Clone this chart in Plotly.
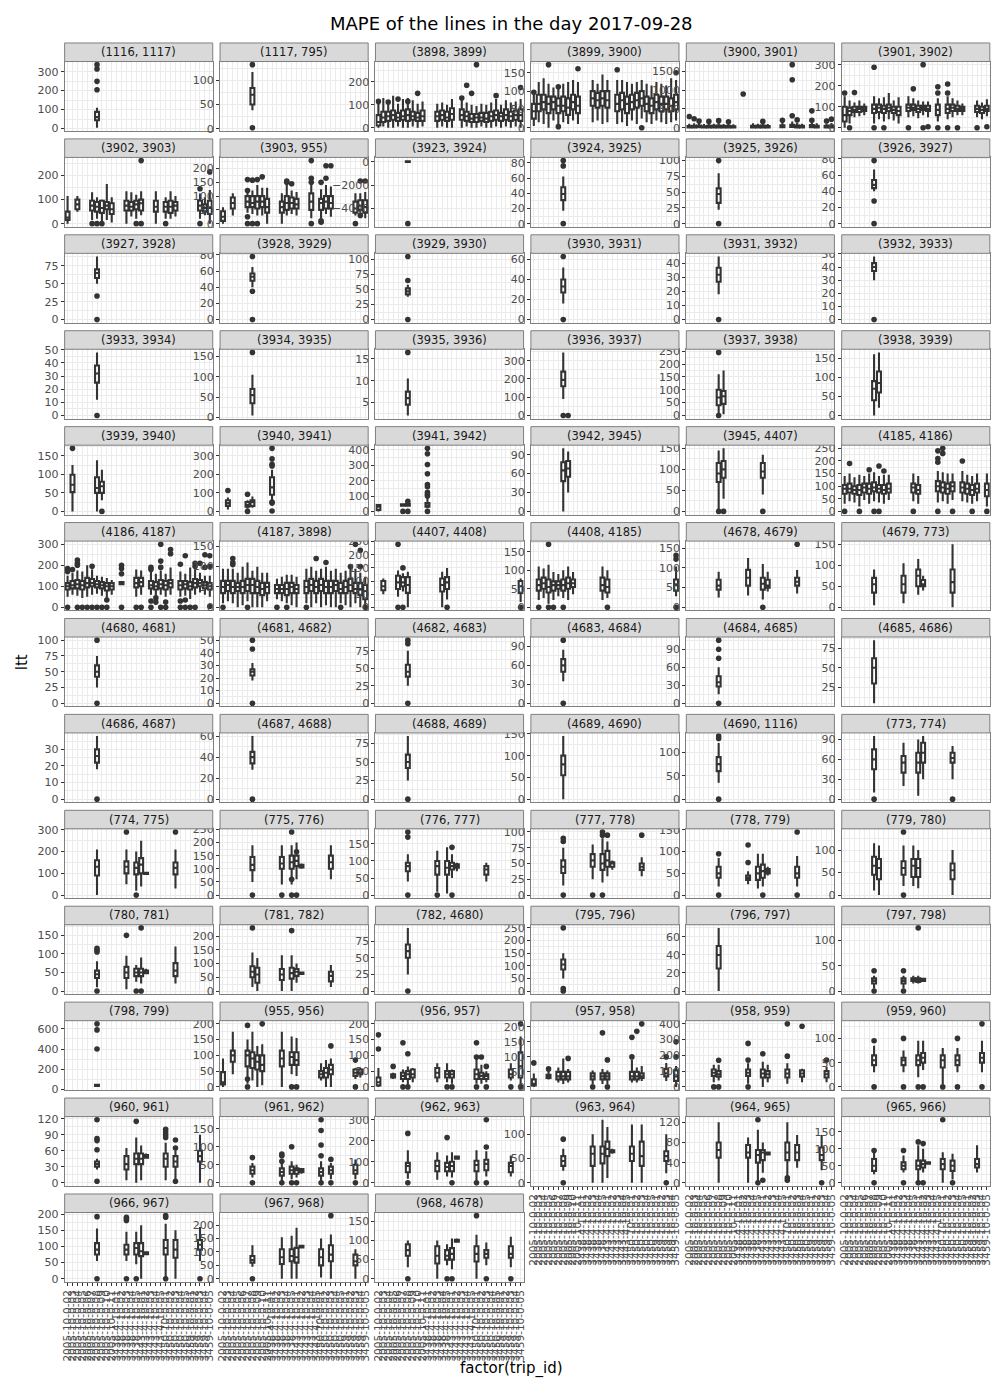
import plotly.graph_objects as go

TITLE = "MAPE of the lines in the day 2017-09-28"
X_LABEL = "factor(trip_id)"
Y_LABEL = "ltt"

TRIP_IDS = [
    "2005-10-0-02", "2005-10-0-03", "2005-10-0-04", "2005-10-0-05", "2005-10-0-06",
    "2005-10-0-07", "2005-10-0-08", "2005-10-0-09", "2005-10-0-10", "2005-10-0-11",
    "3438-4-10-01", "3438-4-10-02", "3438-4-10-03", "3438-4-10-04", "3438-4-10-05",
    "3443-4-10-01", "3443-4-10-02", "3443-4-10-03", "3443-4-10-04", "3443-4-10-05",
    "3450-10-0-01", "3450-10-0-02", "3450-10-0-03", "3450-10-0-04", "3450-10-0-05",
    "3459-10-0-01", "3459-10-0-02", "3459-10-0-03", "3459-10-0-04", "3459-10-0-05",
]

FACETS = [
    "(1116, 1117)", "(1117, 795)", "(3898, 3899)", "(3899, 3900)", "(3900, 3901)", "(3901, 3902)",
    "(3902, 3903)", "(3903, 955)", "(3923, 3924)", "(3924, 3925)", "(3925, 3926)", "(3926, 3927)",
    "(3927, 3928)", "(3928, 3929)", "(3929, 3930)", "(3930, 3931)", "(3931, 3932)", "(3932, 3933)",
    "(3933, 3934)", "(3934, 3935)", "(3935, 3936)", "(3936, 3937)", "(3937, 3938)", "(3938, 3939)",
    "(3939, 3940)", "(3940, 3941)", "(3941, 3942)", "(3942, 3945)", "(3945, 4407)", "(4185, 4186)",
    "(4186, 4187)", "(4187, 3898)", "(4407, 4408)", "(4408, 4185)", "(4678, 4679)", "(4679, 773)",
    "(4680, 4681)", "(4681, 4682)", "(4682, 4683)", "(4683, 4684)", "(4684, 4685)", "(4685, 4686)",
    "(4686, 4687)", "(4687, 4688)", "(4688, 4689)", "(4689, 4690)", "(4690, 1116)", "(773, 774)",
    "(774, 775)", "(775, 776)", "(776, 777)", "(777, 778)", "(778, 779)", "(779, 780)",
    "(780, 781)", "(781, 782)", "(782, 4680)", "(795, 796)", "(796, 797)", "(797, 798)",
    "(798, 799)", "(955, 956)", "(956, 957)", "(957, 958)", "(958, 959)", "(959, 960)",
    "(960, 961)", "(961, 962)", "(962, 963)", "(963, 964)", "(964, 965)", "(965, 966)",
    "(966, 967)", "(967, 968)", "(968, 4678)",
]

# y-axis break step for each facet (free y scales)
Y_STEP = [
    100, 50, 100, 50, 500, 100,
    100, 50, 2000, 20, 25, 20,
    25, 20, 25, 20, 10, 10,
    10, 50, 5, 100, 50, 50,
    50, 100, 100, 30, 50, 50,
    100, 50, 50, 50, 50, 50,
    25, 10, 25, 30, 30, 25,
    10, 20, 25, 50, 50, 30,
    100, 50, 50, 25, 50, 50,
    50, 50, 25, 50, 20, 50,
    200, 50, 50, 50, 100, 50,
    30, 50, 100, 50, 40, 50,
    50, 50, 50,
]

# boxes per facet: (trip index 1..30, lower whisker, q1, median, q3, upper whisker)
BOXES = [
    [(7, 4, 44, 60, 88, 110)],
    [(7, 38, 50, 70, 84, 117)],
    [(1, 0, 10, 25, 55, 110), (2, 5, 25, 45, 70, 130), (3, 0, 30, 50, 70, 110), (4, 0, 35, 55, 75, 140),
     (5, 5, 30, 45, 65, 105), (6, 0, 35, 50, 75, 125), (7, 0, 30, 55, 80, 130), (8, 5, 35, 50, 70, 120),
     (9, 0, 30, 45, 65, 105), (10, 5, 30, 50, 75, 115), (13, 0, 30, 50, 70, 105), (14, 5, 35, 55, 75, 110),
     (15, 0, 30, 45, 70, 100), (16, 0, 35, 60, 85, 125), (18, 0, 35, 55, 80, 125), (19, 5, 30, 50, 70, 110),
     (20, 0, 25, 40, 60, 100), (21, 0, 25, 45, 60, 95), (22, 5, 30, 45, 65, 105), (23, 0, 25, 40, 65, 100),
     (24, 0, 30, 50, 70, 110), (25, 5, 35, 55, 75, 125), (26, 0, 30, 50, 65, 100), (27, 5, 35, 55, 80, 120),
     (28, 0, 30, 50, 70, 110), (29, 5, 35, 55, 75, 115), (30, 0, 30, 55, 80, 125)],
    [(1, 5, 25, 45, 65, 90), (2, 15, 45, 65, 90, 125), (3, 10, 50, 70, 90, 135), (4, 0, 40, 65, 85, 120),
     (5, 20, 50, 70, 85, 110), (6, 10, 40, 60, 80, 115), (7, 15, 45, 60, 85, 120), (8, 10, 35, 55, 80, 125),
     (9, 20, 50, 70, 90, 130), (10, 10, 40, 60, 85, 125), (13, 15, 60, 80, 100, 130), (14, 20, 55, 75, 95, 120),
     (15, 10, 60, 80, 100, 145), (16, 15, 55, 75, 100, 130), (18, 10, 45, 65, 90, 130), (19, 15, 50, 75, 95, 130),
     (20, 5, 40, 65, 85, 125), (21, 20, 50, 70, 90, 120), (22, 10, 55, 75, 95, 125), (23, 25, 60, 80, 100, 130),
     (24, 15, 45, 65, 85, 120), (25, 10, 40, 60, 80, 115), (26, 20, 50, 70, 90, 125), (27, 15, 45, 65, 85, 120),
     (28, 10, 50, 65, 85, 115), (29, 15, 45, 60, 80, 135), (30, 20, 50, 70, 90, 130)],
    [(1, 0, 5, 20, 45, 110), (2, 0, 10, 25, 50, 120), (3, 0, 15, 35, 60, 130), (4, 0, 5, 20, 40, 100),
     (5, 0, 10, 30, 55, 120), (6, 0, 5, 25, 50, 110), (7, 0, 10, 30, 60, 140), (8, 0, 5, 20, 45, 100),
     (9, 0, 10, 25, 50, 115), (10, 0, 5, 20, 40, 95), (14, 0, 10, 30, 55, 120), (15, 0, 5, 25, 50, 110),
     (16, 0, 10, 30, 60, 130), (17, 0, 5, 20, 45, 100), (20, 0, 15, 35, 65, 140), (22, 0, 20, 45, 80, 170),
     (23, 0, 10, 30, 60, 130), (24, 0, 5, 25, 50, 110), (26, 0, 15, 40, 70, 150), (27, 0, 10, 30, 55, 120),
     (29, 0, 5, 25, 50, 110), (30, 0, 10, 35, 60, 130)],
    [(1, 0, 30, 60, 100, 150), (2, 20, 60, 80, 95, 130), (3, 50, 75, 85, 100, 120), (4, 55, 75, 90, 100, 130),
     (5, 60, 80, 90, 100, 115), (7, 20, 70, 90, 110, 150), (8, 40, 75, 95, 110, 140), (9, 30, 70, 90, 105, 145),
     (10, 40, 80, 95, 110, 165), (11, 35, 70, 85, 100, 130), (12, 20, 60, 80, 100, 145), (14, 50, 80, 95, 110, 150),
     (15, 55, 85, 95, 110, 140), (16, 45, 75, 90, 105, 130), (17, 60, 85, 95, 105, 125), (18, 50, 80, 90, 105, 125),
     (20, 30, 60, 85, 110, 140), (22, 40, 70, 90, 110, 150), (23, 50, 80, 95, 110, 140), (24, 60, 80, 90, 105, 130),
     (25, 60, 80, 90, 100, 115), (28, 50, 75, 90, 105, 130), (29, 40, 70, 85, 100, 120), (30, 55, 80, 90, 105, 135)],
    [(1, 0, 15, 25, 50, 115), (3, 50, 60, 80, 100, 115), (6, 15, 55, 75, 95, 130), (7, 20, 50, 70, 90, 110),
     (8, 0, 45, 65, 95, 100), (9, 15, 60, 75, 90, 165), (10, 5, 40, 60, 85, 110), (13, 0, 55, 75, 95, 135),
     (14, 30, 55, 70, 90, 130), (15, 20, 60, 80, 95, 120), (16, 35, 55, 85, 100, 135), (19, 0, 50, 70, 95, 135),
     (21, 20, 50, 70, 90, 110), (22, 20, 45, 70, 95, 135), (23, 30, 55, 75, 90, 115), (28, 20, 55, 75, 95, 125),
     (29, 35, 50, 65, 80, 110), (30, 0, 40, 65, 95, 140)],
    [(1, 0, 10, 25, 45, 60), (3, 30, 55, 75, 95, 110), (6, 40, 60, 80, 100, 115), (7, 35, 60, 75, 100, 120),
     (8, 30, 55, 80, 100, 140), (9, 30, 60, 80, 100, 130), (10, 0, 40, 60, 90, 130), (13, 0, 40, 60, 80, 110),
     (14, 30, 50, 75, 100, 140), (15, 35, 55, 75, 95, 120), (16, 30, 55, 70, 90, 115), (19, 20, 50, 80, 110, 140),
     (21, 20, 50, 75, 90, 125), (22, 35, 55, 80, 100, 140), (23, 25, 55, 75, 100, 135), (28, 30, 40, 55, 80, 110),
     (29, 40, 50, 65, 85, 110), (30, 20, 40, 60, 85, 115)],
    [(7, 0, 5, 20, 50, 120)],
    [(7, 17, 31, 39, 48, 62)],
    [(7, 22, 33, 47, 56, 80)],
    [(7, 40, 44, 48, 54, 67)],
    [(7, 50, 58, 65, 70, 88)],
    [(7, 40, 48, 53, 57, 65)],
    [(7, 38, 42, 47, 52, 58)],
    [(7, 16, 27, 33, 40, 52)],
    [(7, 18, 27, 32, 37, 45)],
    [(7, 30, 37, 40, 43, 48)],
    [(7, 12, 25, 32, 38, 48)],
    [(7, 5, 35, 55, 70, 105)],
    [(7, 2, 4.5, 6, 7.5, 10.5)],
    [(7, 90, 160, 195, 240, 345)],
    [(7, 0, 40, 70, 100, 160), (8, 5, 45, 75, 95, 175)],
    [(7, 0, 40, 70, 90, 160), (8, 20, 60, 85, 115, 165)],
    [(2, 0, 52, 72, 99, 125), (7, 0, 50, 63, 92, 138), (8, 30, 50, 68, 80, 112)],
    [(2, 10, 30, 45, 60, 75), (6, 15, 25, 35, 50, 60), (7, 20, 30, 50, 60, 80), (11, 60, 90, 130, 185, 225)],
    [(1, 0, 10, 30, 42, 45), (6, 30, 38, 42, 46, 50), (7, 30, 38, 43, 48, 55), (11, 20, 30, 40, 55, 90)],
    [(7, 0, 48, 65, 78, 100), (8, 30, 55, 68, 80, 95)],
    [(7, 0, 70, 90, 115, 145), (8, 30, 80, 100, 120, 150), (16, 40, 80, 95, 115, 135)],
    [(1, 30, 70, 90, 105, 140), (2, 40, 75, 90, 110, 150), (3, 35, 70, 85, 100, 135), (4, 20, 65, 85, 105, 145),
     (5, 45, 75, 95, 110, 140), (6, 30, 70, 90, 110, 150), (7, 40, 80, 95, 115, 155), (8, 35, 75, 90, 105, 140),
     (9, 30, 70, 85, 105, 145), (10, 45, 75, 90, 110, 145), (15, 40, 75, 95, 110, 150), (16, 30, 70, 85, 105, 140),
     (20, 35, 80, 100, 120, 160), (21, 40, 75, 95, 115, 155), (22, 30, 70, 90, 110, 150), (23, 45, 80, 100, 115, 150),
     (25, 40, 75, 95, 115, 160), (26, 35, 70, 90, 110, 145), (27, 30, 65, 85, 105, 140), (28, 40, 75, 90, 110, 150),
     (30, 20, 60, 85, 110, 150)],
    [(1, 50, 85, 100, 115, 150), (2, 60, 90, 105, 125, 165), (3, 55, 90, 110, 130, 175), (4, 45, 85, 105, 125, 170),
     (5, 50, 95, 115, 140, 200), (6, 60, 100, 115, 135, 180), (7, 65, 95, 110, 125, 150), (8, 55, 90, 105, 120, 145),
     (9, 40, 80, 100, 115, 140), (10, 60, 85, 100, 115, 130), (12, 105, 110, 115, 120, 125), (15, 50, 95, 115, 140, 180),
     (16, 60, 100, 120, 140, 175), (18, 60, 90, 105, 125, 185), (19, 50, 85, 100, 120, 160), (20, 60, 90, 110, 130, 175),
     (21, 50, 85, 105, 125, 160), (22, 60, 95, 115, 130, 190), (24, 50, 85, 105, 125, 170), (25, 55, 90, 110, 125, 160),
     (26, 40, 85, 100, 120, 190), (27, 60, 95, 115, 135, 180), (28, 70, 100, 115, 130, 165), (29, 60, 90, 105, 120, 150),
     (30, 50, 85, 100, 115, 150)],
    [(1, 10, 35, 50, 65, 95), (2, 15, 40, 55, 65, 95), (3, 10, 35, 50, 65, 95), (4, 0, 40, 50, 60, 85),
     (5, 5, 35, 50, 65, 100), (6, 15, 40, 55, 70, 110), (7, 0, 35, 55, 70, 90), (8, 0, 35, 50, 65, 100),
     (9, 0, 30, 45, 60, 85), (10, 15, 35, 50, 60, 85), (12, 20, 35, 45, 55, 70), (13, 15, 35, 45, 55, 75),
     (14, 10, 30, 45, 60, 80), (15, 5, 35, 50, 60, 80), (16, 0, 35, 45, 55, 75), (18, 10, 35, 50, 65, 95),
     (19, 0, 40, 55, 70, 100), (20, 10, 35, 50, 65, 90), (21, 0, 40, 55, 70, 95), (22, 5, 35, 50, 65, 100),
     (23, 0, 35, 50, 65, 90), (24, 0, 40, 55, 65, 95), (25, 10, 35, 45, 60, 85), (26, 5, 35, 50, 65, 90),
     (27, 0, 40, 55, 70, 95), (28, 10, 35, 45, 60, 95), (29, 0, 30, 45, 60, 85), (30, 5, 20, 40, 55, 75)],
    [(2, 50, 65, 80, 100, 110), (5, 40, 70, 95, 120, 140), (6, 60, 80, 95, 115, 130), (7, 0, 55, 85, 115, 135),
     (14, 0, 60, 85, 110, 135), (15, 30, 70, 95, 115, 150), (30, 20, 55, 80, 100, 110)],
    [(2, 20, 45, 60, 75, 110), (3, 25, 50, 65, 80, 105), (4, 10, 40, 55, 75, 115), (5, 20, 45, 60, 70, 95),
     (6, 30, 50, 60, 70, 90), (7, 25, 45, 60, 75, 100), (8, 20, 50, 65, 80, 110), (9, 35, 55, 65, 75, 95),
     (15, 20, 45, 60, 80, 110), (16, 25, 40, 55, 75, 100), (30, 30, 45, 60, 75, 110)],
    [(7, 25, 45, 55, 70, 90), (13, 30, 55, 75, 95, 125), (16, 20, 45, 60, 75, 110), (17, 40, 50, 55, 70, 90),
     (23, 35, 55, 65, 75, 95)],
    [(7, 5, 35, 55, 70, 90), (13, 10, 35, 55, 75, 105), (16, 30, 50, 75, 90, 115), (17, 40, 50, 55, 65, 75),
     (23, 0, 35, 60, 90, 150)],
    [(7, 25, 42, 50, 60, 75)],
    [(7, 18, 22, 25, 27, 32)],
    [(7, 25, 38, 45, 55, 75)],
    [(7, 35, 50, 60, 70, 85)],
    [(7, 15, 28, 35, 45, 60)],
    [(7, 5, 30, 50, 62, 85)],
    [(7, 18, 22, 26, 30, 38)],
    [(7, 28, 34, 40, 45, 60)],
    [(7, 25, 42, 50, 60, 85)],
    [(7, 0, 55, 80, 100, 145)],
    [(7, 35, 60, 75, 90, 120)],
    [(7, 10, 45, 60, 75, 95), (13, 20, 40, 55, 65, 85), (16, 5, 40, 55, 70, 90), (17, 30, 55, 70, 85, 95),
     (23, 30, 55, 62, 70, 80)],
    [(7, 0, 90, 130, 160, 210), (13, 50, 100, 130, 155, 210), (15, 20, 95, 125, 150, 200), (16, 40, 100, 140, 170, 250),
     (17, 95, 97, 100, 103, 105), (23, 30, 95, 125, 150, 210)],
    [(7, 50, 95, 115, 145, 190), (13, 40, 100, 120, 145, 190), (15, 40, 100, 125, 150, 190), (16, 60, 110, 130, 150, 200),
     (17, 100, 105, 110, 115, 120), (23, 60, 100, 125, 150, 190)],
    [(7, 40, 70, 85, 95, 120), (13, 10, 60, 85, 100, 130), (15, 5, 60, 80, 100, 140), (16, 50, 75, 85, 95, 120),
     (17, 70, 80, 85, 90, 95), (23, 40, 60, 75, 85, 95)],
    [(7, 15, 35, 45, 55, 75), (13, 25, 45, 55, 65, 80), (15, 20, 40, 50, 65, 90), (16, 30, 45, 55, 70, 85),
     (17, 40, 45, 50, 52, 55), (23, 30, 40, 45, 50, 60)],
    [(7, 20, 40, 50, 65, 85), (13, 25, 35, 40, 45, 55), (15, 15, 35, 50, 65, 95), (16, 20, 40, 55, 70, 95),
     (17, 45, 50, 55, 60, 65), (23, 20, 40, 50, 65, 90)],
    [(7, 10, 45, 65, 85, 115), (8, 0, 35, 60, 80, 110), (13, 20, 45, 60, 75, 110), (15, 20, 40, 65, 80, 110),
     (16, 15, 40, 60, 80, 100), (23, 0, 35, 55, 70, 100)],
    [(7, 10, 35, 45, 55, 80), (13, 5, 35, 50, 65, 95), (15, 25, 40, 50, 60, 70), (16, 20, 40, 50, 60, 90),
     (17, 45, 48, 52, 55, 60), (23, 20, 40, 55, 75, 120)],
    [(7, 15, 50, 70, 90, 140), (8, 0, 30, 60, 85, 120), (13, 0, 40, 60, 80, 130), (15, 0, 45, 65, 85, 130),
     (16, 30, 55, 70, 80, 100), (17, 60, 62, 65, 67, 70), (23, 15, 35, 55, 70, 95)],
    [(7, 25, 50, 60, 70, 95)],
    [(7, 50, 85, 105, 125, 150)],
    [(7, 0, 25, 40, 50, 70)],
    [(7, 5, 15, 20, 25, 30), (13, 5, 15, 20, 25, 30), (15, 15, 20, 22, 25, 30), (16, 15, 18, 22, 25, 30),
     (17, 18, 20, 22, 24, 25)],
    [(7, 25, 35, 40, 45, 55)],
    [(1, 0, 8, 15, 47, 90), (3, 40, 80, 100, 115, 175), (6, 10, 65, 100, 115, 150), (7, 20, 60, 90, 110, 175),
     (8, 0, 55, 80, 100, 130), (9, 5, 50, 70, 100, 135), (13, 0, 65, 90, 115, 175), (15, 40, 70, 95, 110, 160),
     (16, 35, 70, 85, 110, 155), (21, 20, 30, 40, 50, 75), (22, 0, 30, 45, 60, 85), (23, 0, 40, 55, 70, 90),
     (28, 25, 35, 45, 55, 60), (29, 30, 40, 45, 55, 60)],
    [(1, 0, 5, 15, 30, 60), (4, 25, 30, 35, 40, 45), (6, 15, 25, 35, 45, 55), (7, 0, 25, 40, 50, 65),
     (8, 15, 30, 40, 55, 60), (13, 15, 30, 45, 60, 75), (15, 15, 30, 40, 50, 75), (16, 10, 30, 40, 50, 55),
     (21, 10, 25, 40, 55, 90), (22, 10, 25, 35, 45, 70), (23, 15, 25, 35, 40, 50), (28, 20, 30, 40, 55, 75),
     (30, 0, 30, 65, 110, 160)],
    [(1, 0, 5, 10, 25, 45), (4, 25, 30, 35, 40, 55), (6, 15, 25, 35, 50, 65), (7, 10, 25, 35, 50, 95),
     (8, 15, 25, 35, 50, 60), (13, 10, 25, 35, 45, 55), (15, 10, 25, 35, 45, 60), (16, 10, 25, 35, 45, 55),
     (21, 15, 25, 35, 50, 90), (22, 15, 25, 35, 50, 65), (23, 20, 30, 35, 45, 70), (28, 20, 35, 45, 60, 80),
     (30, 0, 20, 35, 55, 70)],
    [(6, 30, 70, 90, 110, 140), (7, 40, 65, 80, 100, 140), (13, 20, 70, 90, 110, 150), (16, 0, 60, 85, 110, 160),
     (17, 30, 60, 80, 100, 140), (21, 20, 60, 85, 110, 150), (24, 30, 65, 85, 105, 115), (29, 30, 60, 80, 100, 130)],
    [(7, 30, 45, 55, 65, 85), (13, 30, 45, 55, 60, 75), (16, 20, 45, 55, 65, 95), (17, 35, 50, 60, 70, 95),
     (21, 5, 40, 55, 65, 80), (24, 30, 45, 55, 65, 80), (29, 30, 50, 60, 70, 95)],
    [(7, 25, 30, 35, 40, 45), (13, 5, 25, 35, 50, 65), (15, 0, 35, 45, 55, 85), (16, 5, 35, 45, 55, 70),
     (17, 45, 47, 50, 52, 55), (21, 5, 30, 45, 55, 75), (23, 5, 30, 40, 50, 60), (28, 0, 40, 50, 60, 90)],
    [(7, 15, 25, 35, 45, 55), (13, 5, 20, 30, 40, 55), (15, 10, 25, 35, 45, 60), (16, 15, 25, 35, 40, 50),
     (17, 25, 30, 35, 38, 40), (21, 5, 20, 30, 40, 60), (23, 10, 25, 35, 45, 55), (28, 10, 25, 35, 50, 65)],
    [(7, 20, 50, 80, 95, 155), (13, 15, 55, 80, 105, 145), (15, 30, 55, 75, 95, 130), (16, 25, 55, 80, 100, 145),
     (17, 110, 115, 120, 125, 130), (21, 10, 55, 85, 105, 155), (23, 30, 60, 90, 110, 150), (28, 30, 50, 80, 95, 130)],
    [(7, 25, 35, 45, 55, 70), (13, 0, 35, 60, 75, 100), (15, 0, 40, 60, 75, 130), (16, 10, 55, 70, 85, 115),
     (17, 60, 63, 65, 67, 70), (21, 0, 45, 60, 75, 120), (23, 0, 35, 55, 85, 120), (28, 20, 45, 55, 65, 100)],
    [(7, 0, 50, 65, 80, 120), (13, 0, 50, 60, 75, 90), (15, 0, 40, 55, 65, 105), (16, 20, 45, 60, 65, 80),
     (17, 55, 56, 58, 60, 62), (21, 0, 45, 60, 80, 120), (23, 30, 45, 60, 75, 95), (28, 25, 45, 55, 70, 95)],
    [(7, 25, 35, 50, 70, 90), (13, 30, 40, 50, 60, 80), (16, 0, 40, 50, 65, 110), (17, 30, 45, 55, 65, 100),
     (18, 55, 56, 58, 60, 62), (21, 0, 40, 55, 70, 90), (23, 10, 35, 50, 65, 85), (28, 30, 45, 55, 70, 110)],
    [(7, 55, 75, 90, 110, 155), (13, 55, 75, 90, 105, 145), (15, 45, 75, 95, 110, 145), (16, 0, 70, 85, 110, 165),
     (17, 75, 76, 80, 82, 85), (21, 0, 75, 95, 120, 170), (23, 0, 65, 90, 120, 150), (28, 55, 90, 105, 120, 160)],
    [(7, 45, 60, 70, 85, 125), (13, 0, 55, 80, 110, 155), (15, 0, 65, 85, 110, 160), (16, 0, 60, 80, 115, 190),
     (17, 115, 117, 120, 123, 125), (21, 5, 50, 80, 110, 150), (23, 0, 65, 90, 125, 165), (28, 0, 50, 65, 90, 110)],
    [(7, 30, 60, 75, 90, 100), (13, 0, 40, 60, 85, 100), (15, 35, 50, 60, 75, 90), (16, 25, 50, 65, 80, 105),
     (17, 95, 97, 100, 102, 105), (21, 0, 45, 65, 85, 115), (23, 35, 55, 65, 75, 95), (28, 30, 55, 65, 85, 110)],
]

# outlying points per facet: (trip index, value)
OUTLIERS = [
    [(7, 205), (7, 249), (7, 314), (7, 337)],
    [(7, 132), (7, 2)],
    [(1, 115), (3, 112), (5, 125), (7, 115), (9, 150), (18, 130), (19, 185), (20, 150), (21, 275), (25, 140), (30, 175)],
    [(1, 97), (4, 172), (6, 3), (6, 112), (10, 161), (18, 158), (23, 0), (30, 150)],
    [(1, 300), (2, 240), (3, 180), (5, 170), (7, 190), (9, 160), (12, 900), (16, 170), (20, 200), (22, 1680),
     (22, 1280), (22, 320), (23, 210), (26, 450), (26, 200), (29, 180), (30, 230)],
    [(1, 165), (2, 0), (3, 168), (7, 0), (7, 288), (9, 0), (14, 0), (15, 185), (17, 300), (17, 0), (18, 5),
     (20, 195), (20, 165), (20, 0), (22, 165), (22, 208), (22, 0), (24, 0), (28, 0), (30, 5)],
    [(6, 0), (7, 0), (8, 0), (15, 0), (16, 0), (16, 262), (21, 0), (28, 0), (28, 145), (30, 215)],
    [(6, 0), (6, 25), (6, 120), (6, 160), (7, 0), (7, 158), (8, 0), (8, 160), (9, 170), (14, 150), (14, 155),
     (15, 145), (19, 0), (19, 150), (19, 165), (19, 229), (21, 5), (21, 10), (21, 150), (22, 165), (22, 210),
     (23, 210), (28, 0), (29, 30), (29, 155), (30, 155)],
    [(7, -5300)],
    [(7, 83), (7, 76), (7, 0)],
    [(7, 100), (7, 0)],
    [(7, 78), (7, 28), (7, 0)],
    [(7, 33), (7, 0)],
    [(7, 78), (7, 35), (7, 0)],
    [(7, 105), (7, 65), (7, 0)],
    [(7, 63), (7, 0)],
    [(7, 0)],
    [(7, 0)],
    [(7, 0)],
    [(7, 160)],
    [(7, 16.5)],
    [(7, 0), (8, 0)],
    [(7, 245), (7, 0)],
    [],
    [(2, 170), (8, 0)],
    [(2, 113), (6, 93), (6, 0), (11, 341), (11, 284), (11, 255), (11, 246), (11, 50), (11, 45), (11, 2)],
    [(6, 0), (7, 0), (7, 65), (11, 410), (11, 375), (11, 305), (11, 245), (11, 175), (11, 160), (11, 125),
     (11, 110), (11, 100), (11, 0)],
    [],
    [(7, 0), (8, 0), (16, 0)],
    [(1, 0), (2, 190), (4, 0), (6, 165), (7, 0), (8, 180), (8, 0), (9, 160), (15, 0), (20, 240), (20, 210),
     (20, 195), (20, 0), (21, 250), (21, 230), (23, 0), (25, 200), (27, 0), (30, 0)],
    [(1, 185), (1, 170), (1, 0), (2, 180), (3, 225), (3, 210), (3, 200), (3, 0), (4, 0), (5, 0), (6, 195), (6, 0),
     (7, 0), (8, 0), (9, 0), (9, 35), (12, 200), (12, 185), (12, 160), (12, 0), (15, 0), (16, 0), (18, 190),
     (18, 180), (18, 30), (18, 0), (19, 45), (19, 25), (20, 300), (20, 220), (20, 190), (20, 0), (21, 25), (21, 0),
     (22, 275), (22, 255), (24, 205), (24, 30), (24, 0), (25, 245), (25, 35), (25, 0), (26, 0), (27, 210),
     (27, 195), (27, 0), (28, 210), (29, 190), (29, 250), (30, 245), (30, 195), (30, 5)],
    [(1, 0), (3, 120), (3, 110), (3, 105), (6, 0), (12, 0), (14, 0), (18, 0), (20, 120), (22, 110), (25, 0),
     (27, 100), (28, 155), (29, 140), (29, 100), (30, 0)],
    [(5, 240), (5, 0), (6, 150), (6, 0), (15, 0), (30, 0)],
    [(2, 0), (4, 170), (4, 0), (5, 0), (7, 0), (16, 0), (30, 140), (30, 130), (30, 0)],
    [(16, 0), (23, 160)],
    [],
    [(7, 100), (7, 0)],
    [(7, 50), (7, 43), (7, 0)],
    [(7, 90), (7, 85), (7, 0)],
    [(7, 100), (7, 0)],
    [(7, 105), (7, 90), (7, 75), (7, 0)],
    [],
    [(7, 0)],
    [(7, 0)],
    [(7, 0)],
    [],
    [(7, 135), (7, 130), (7, 0)],
    [(7, 0), (23, 0)],
    [(13, 290), (23, 290), (15, 0)],
    [(7, 0), (13, 0), (15, 240), (15, 0), (15, 60), (16, 165), (16, 0)],
    [(7, 185), (7, 170), (7, 0), (13, 0), (16, 140), (16, 0)],
    [(7, 90), (7, 85), (7, 0), (13, 0), (15, 100), (15, 95), (15, 0), (16, 95), (23, 95)],
    [(7, 95), (7, 0), (13, 115), (13, 75), (16, 0), (23, 145), (23, 0)],
    [(13, 140), (13, 0)],
    [(7, 115), (7, 110), (7, 105), (7, 0), (13, 150), (15, 0), (16, 170), (16, 0)],
    [(7, 230), (15, 220)],
    [(7, 0)],
    [(7, 250), (7, 10), (7, 0)],
    [],
    [(7, 40), (7, 0), (13, 40), (13, 0), (16, 125)],
    [(7, 650), (7, 590), (7, 400)],
    [(6, 195), (6, 25), (6, 0), (9, 200), (15, 0), (16, 0), (23, 130), (28, 85), (28, 0)],
    [(1, 165), (1, 120), (4, 65), (6, 140), (6, 0), (7, 105), (7, 0), (15, 0), (16, 0), (21, 140), (21, 95),
     (21, 0), (22, 95), (23, 65), (23, 0), (28, 0), (30, 200), (30, 0)],
    [(1, 80), (4, 60), (8, 95), (13, 0), (15, 180), (16, 90), (16, 0), (21, 165), (21, 100), (22, 185), (23, 210),
     (28, 100), (30, 150), (30, 100)],
    [(6, 0), (7, 169), (7, 0), (13, 276), (13, 170), (13, 0), (16, 210), (21, 195), (21, 400), (24, 385), (29, 170)],
    [(7, 95), (7, 0), (13, 100), (13, 0), (16, 0), (17, 0), (21, 0), (24, 100), (24, 0), (29, 130), (29, 0)],
    [(7, 118), (7, 83), (7, 79), (7, 62), (7, 3), (15, 115), (21, 100), (21, 95), (21, 90), (21, 85), (23, 80),
     (23, 65), (23, 3)],
    [(7, 70), (7, 0), (13, 80), (13, 75), (13, 60), (13, 0), (15, 100), (15, 0), (16, 0), (21, 175), (21, 145),
     (21, 105), (21, 75), (21, 0), (23, 65), (23, 0), (28, 0)],
    [(7, 235), (7, 0), (15, 215), (16, 0), (21, 0), (23, 300), (23, 170), (23, 0)],
    [(7, 90), (7, 0), (28, 0)],
    [(15, 125), (15, 0), (16, 5), (21, 10), (21, 5), (28, 0)],
    [(7, 95), (7, 0), (13, 95), (13, 0), (16, 120), (16, 0), (17, 115), (17, 0), (21, 185), (23, 0)],
    [(7, 192), (7, 0), (13, 190), (13, 185), (13, 180), (13, 0), (15, 0), (21, 195), (21, 190), (21, 0), (28, 0)],
    [(7, 0), (23, 235)],
    [(7, 0), (15, 0), (16, 0), (21, 165), (23, 0), (28, 0)],
]

# ---------------------------------------------------------------- layout
W, H = 1004, 1392
NCOL = 6
COL_X0, COL_PITCH, PANEL_W = 61.0, 156.35, 149.0
ROW_TOP, ROW_PITCH, PANEL_H, STRIP_H = 56.0, 96.75, 70.0, 18.7
FONT = "DejaVu Sans"
DARK = "#333333"
GRID = "#EBEBEB"
BORDER = "#7F7F7F"

fig = go.Figure()
layout = {}
shapes = []
annotations = []
n_f = len(FACETS)

for i, name in enumerate(FACETS):
    r, c = divmod(i, NCOL)
    k = i + 1
    xa, ya = ("x", "y") if k == 1 else (f"x{k}", f"y{k}")
    xk, yk = ("xaxis", "yaxis") if k == 1 else (f"xaxis{k}", f"yaxis{k}")
    px0 = COL_X0 + c * COL_PITCH
    px1 = px0 + PANEL_W
    ptop = ROW_TOP + r * ROW_PITCH
    pbot = ptop + PANEL_H
    is_bottom = i + NCOL >= n_f

    boxes = BOXES[i]
    outs = OUTLIERS[i]
    fig.add_trace(go.Box(
        x=[b[0] for b in boxes],
        lowerfence=[b[1] for b in boxes],
        q1=[b[2] for b in boxes],
        median=[b[3] for b in boxes],
        q3=[b[4] for b in boxes],
        upperfence=[b[5] for b in boxes],
        width=0.8, whiskerwidth=0, boxpoints=False,
        fillcolor="white", line=dict(color=DARK, width=2.1),
        xaxis=xa, yaxis=ya, showlegend=False, hoverinfo="skip",
    ))
    if outs:
        fig.add_trace(go.Scatter(
            x=[o[0] for o in outs], y=[o[1] for o in outs], mode="markers",
            marker=dict(color=DARK, size=5.6, line=dict(width=0)),
            xaxis=xa, yaxis=ya, showlegend=False, hoverinfo="skip",
        ))

    vals = [b[1] for b in boxes] + [b[5] for b in boxes] + [o[1] for o in outs]
    lo, hi = min(vals), max(vals)
    span = (hi - lo) or 1.0
    yr = [lo - 0.05 * span, hi + 0.05 * span]
    step = Y_STEP[i]

    layout[xk] = dict(
        domain=[px0 / W, px1 / W], anchor=ya, range=[0.4, 30.6],
        tickmode="array", tickvals=list(range(1, 31)), ticktext=TRIP_IDS,
        showticklabels=is_bottom, ticks="outside" if is_bottom else "",
        ticklen=3, tickwidth=1, tickcolor=DARK, tickangle=-90,
        tickfont=dict(family=FONT, size=10.5, color="#4D4D4D"),
        showgrid=True, gridcolor=GRID, gridwidth=1, zeroline=False,
        showline=True, mirror=True, linecolor=BORDER, linewidth=1,
        fixedrange=True,
    )
    layout[yk] = dict(
        domain=[1 - pbot / H, 1 - ptop / H], anchor=xa, range=yr,
        tick0=0, dtick=step, ticks="outside", ticklen=3, tickwidth=1, tickcolor=DARK,
        tickfont=dict(family=FONT, size=11, color="#4D4D4D"),
        showgrid=True, gridcolor=GRID, gridwidth=1, zeroline=False,
        minor=dict(tick0=0, dtick=step / 2, showgrid=True, gridcolor=GRID, gridwidth=0.5, ticks=""),
        showline=True, mirror=True, linecolor=BORDER, linewidth=1,
        fixedrange=True,
    )

    stop = ptop - STRIP_H
    shapes.append(dict(
        type="rect", xref="paper", yref="paper",
        x0=px0 / W, x1=px1 / W, y0=1 - ptop / H, y1=1 - stop / H,
        fillcolor="#D9D9D9", line=dict(color=BORDER, width=1), layer="above",
    ))
    annotations.append(dict(
        x=(px0 + px1) / 2 / W, y=1 - (ptop - STRIP_H / 2) / H, xref="paper", yref="paper",
        text=name, showarrow=False, xanchor="center", yanchor="middle",
        font=dict(family=FONT, size=11.5, color="#1A1A1A"),
    ))

annotations.append(dict(
    x=511 / W, y=1 - 18 / H, xref="paper", yref="paper", text=TITLE, showarrow=False,
    xanchor="center", yanchor="middle", font=dict(family=FONT, size=18, color="black"),
))
annotations.append(dict(
    x=511 / W, y=1 - 1374 / H, xref="paper", yref="paper", text=X_LABEL, showarrow=False,
    xanchor="center", yanchor="middle", font=dict(family=FONT, size=15, color="black"),
))
annotations.append(dict(
    x=18 / W, y=1 - 662 / H, xref="paper", yref="paper", text=Y_LABEL, showarrow=False,
    xanchor="center", yanchor="middle", textangle=-90,
    font=dict(family=FONT, size=15, color="black"),
))

fig.update_layout(
    width=W, height=H, autosize=False,
    margin=dict(l=0, r=0, t=0, b=0),
    paper_bgcolor="white", plot_bgcolor="white",
    showlegend=False, shapes=shapes, annotations=annotations,
    font=dict(family=FONT),
    **layout,
)

fig.write_html("out.html")
